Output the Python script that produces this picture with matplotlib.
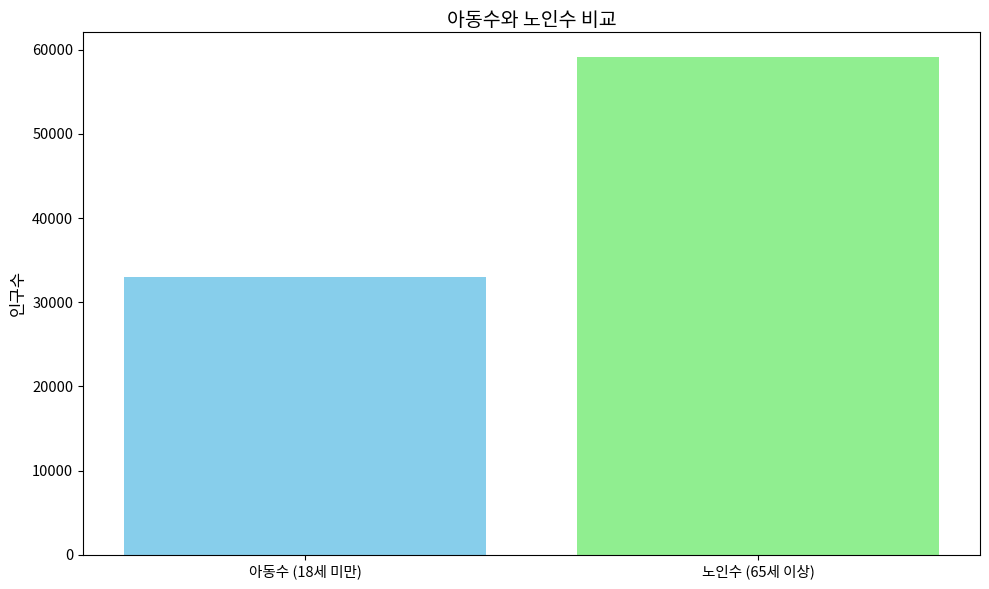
import matplotlib.pyplot as plt

plt.rcParams['font.family'] = ['Noto Sans CJK KR', 'DejaVu Sans']

categories = ['아동수 (18세 미만)', '노인수 (65세 이상)']
values = [32950, 59180]
colors = ['skyblue', 'lightgreen']

fig, ax = plt.subplots(figsize=(9.89, 5.89), dpi=100)
ax.bar(categories, values, color=colors)
ax.set_title('아동수와 노인수 비교', fontsize=14, pad=4)
ax.set_ylabel('인구수', fontsize=12)
ax.tick_params(labelsize=10.5)
fig.subplots_adjust(left=0.084, right=0.991, top=0.946, bottom=0.058)
plt.savefig('out.png')
